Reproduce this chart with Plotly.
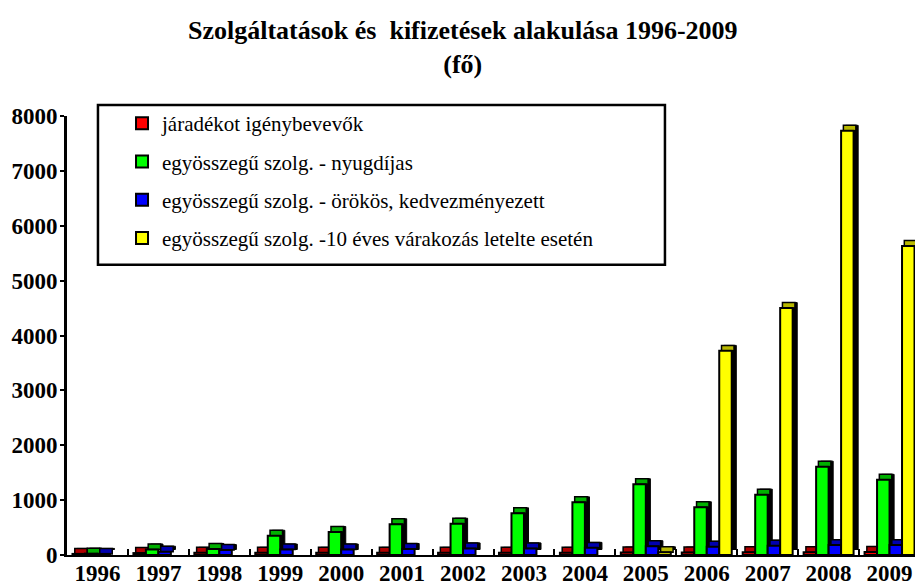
import plotly.graph_objects as go

years = ["1996", "1997", "1998", "1999", "2000", "2001", "2002", "2003",
         "2004", "2005", "2006", "2007", "2008", "2009"]
series_names = [
    "járadékot igénybevevők",
    "egyösszegű szolg. - nyugdíjas",
    "egyösszegű szolg. - örökös, kedvezményezett",
    "egyösszegű szolg. -10 éves várakozás letelte esetén",
]
jaradek = [20, 35, 40, 40, 40, 40, 40, 40, 40, 45, 45, 50, 50, 55]
nyugdijas = [25, 100, 110, 350, 420, 560, 570, 760, 960, 1290, 870, 1100, 1610, 1370]
orokos = [20, 60, 90, 100, 100, 110, 120, 120, 130, 160, 150, 170, 180, 180]
varakozas = [0, 0, 0, 0, 0, 0, 0, 0, 0, 50, 3720, 4500, 7730, 5630]

values = [jaradek, nyugdijas, orokos, varakozas]
colors = ["#FF0000", "#00FF00", "#0000FF", "#FFFF00"]
top_colors = ["#B00000", "#00B000", "#0000B0", "#B8B800"]

slot = 0.205
depth_x = 0.075
depth_y = 100
font_family = "Liberation Serif, Times New Roman, serif"

fig = go.Figure()
for i, vals in enumerate(values):
    shown = [v if v > 0 else None for v in vals]
    left = -2 * slot + i * slot
    # side (3D depth) bar
    fig.add_trace(go.Bar(
        x=years, y=shown, base=depth_y,
        offset=left + depth_x, width=slot,
        marker=dict(color="black", line=dict(color="black", width=1)),
        showlegend=False, hoverinfo="skip",
    ))
    # top face
    fig.add_trace(go.Bar(
        x=years, y=[depth_y if v else None for v in shown], base=vals,
        offset=left + depth_x * 0.5, width=slot,
        marker=dict(color=top_colors[i], line=dict(color="black", width=1.5)),
        showlegend=False, hoverinfo="skip",
    ))
    # front face
    fig.add_trace(go.Bar(
        x=years, y=shown, name=series_names[i], legendgroup=f"g{i}",
        offset=left, width=slot,
        marker=dict(color=colors[i], line=dict(color="black", width=2)),
    ))

# legend frame (drawn as a shape so it can be wider than the legend content)
fig.add_shape(type="rect", xref="paper", yref="paper",
              x0=0.0363, x1=0.701, y0=0.661, y1=1.025,
              line=dict(color="black", width=2.5), fillcolor="rgba(0,0,0,0)",
              layer="above")

fig.update_layout(
    barmode="overlay",
    width=915, height=577,
    margin=dict(l=59, r=3, t=108, b=30),
    paper_bgcolor="white", plot_bgcolor="white",
    font=dict(family=font_family, color="black"),
    title=dict(
        text="Szolgáltatások és  kifizetések alakulása 1996-2009<br>(fő)",
        x=0.497, xanchor="center", yref="container", y=0.946, yanchor="middle",
        font=dict(size=26, family=font_family, weight="bold"),
    ),
    legend=dict(
        x=0.0645, y=1.0296, xanchor="left", yanchor="top",
        borderwidth=0, bgcolor="rgba(255,255,255,0)",
        font=dict(size=21, family=font_family),
        traceorder="grouped", tracegroupgap=8,
    ),
    xaxis=dict(
        type="category", showline=True, linecolor="black", linewidth=2,
        ticks="inside", tickson="boundaries", ticklen=6, tickwidth=2,
        tickcolor="black", showgrid=False, automargin=False, tickangle=0,
        tickfont=dict(size=23, family=font_family, weight="bold"),
        ticklabelstandoff=-4,
    ),
    yaxis=dict(
        range=[0, 8000], tickvals=[0, 1000, 2000, 3000, 4000, 5000, 6000, 7000, 8000],
        showline=True, linecolor="black", linewidth=3,
        ticks="outside", ticklen=4, tickwidth=2, tickcolor="black",
        showgrid=False, zeroline=False, automargin=False,
        tickfont=dict(size=23, family=font_family, weight="bold"),
        ticklabelstandoff=-2,
    ),
)

fig.write_html("out.html")
